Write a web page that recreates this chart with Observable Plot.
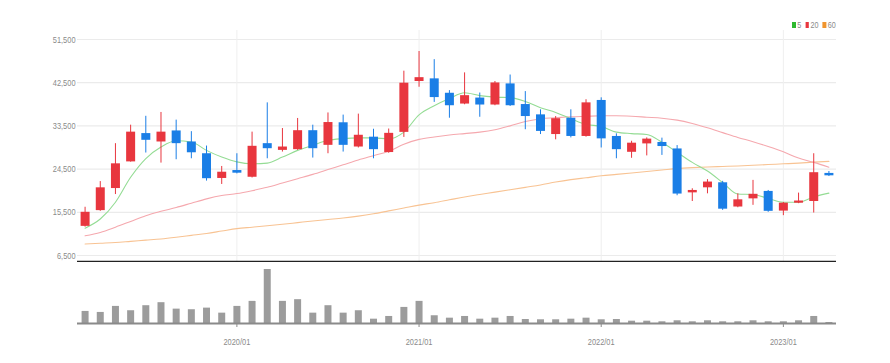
<!DOCTYPE html>
<html><head><meta charset="utf-8">
<script src="https://cdn.jsdelivr.net/npm/d3@7"></script>
<script src="https://cdn.jsdelivr.net/npm/@observablehq/plot@0.6"></script>
<style>
body{margin:0;background:#fff;}
#wrap{position:relative;width:890px;height:363px;overflow:hidden;font-family:"Liberation Sans",Arial,sans-serif;}
#top{position:absolute;left:0;top:0}
#bot{position:absolute;left:0;top:262px}
#legend{position:absolute;top:19px;left:792px;font-size:9px;line-height:12px;color:#8a8a8a;white-space:nowrap;transform:scaleX(0.8);transform-origin:0 0}
#legend span.sw{display:inline-block;width:4.5px;height:6px;margin-right:2px;vertical-align:middle;position:relative;top:-1px}
#legend span.it{margin-right:5px}
</style></head>
<body><div id="wrap"><div id="top"></div><div id="bot"></div><div id="legend"></div></div>
<script>
const months = ["2019/03","2019/04","2019/05","2019/06","2019/07","2019/08","2019/09","2019/10","2019/11","2019/12",
"2020/01","2020/02","2020/03","2020/04","2020/05","2020/06","2020/07","2020/08","2020/09","2020/10","2020/11","2020/12",
"2021/01","2021/02","2021/03","2021/04","2021/05","2021/06","2021/07","2021/08","2021/09","2021/10","2021/11","2021/12",
"2022/01","2022/02","2022/03","2022/04","2022/05","2022/06","2022/07","2022/08","2022/09","2022/10","2022/11","2022/12",
"2023/01","2023/02","2023/03","2023/04"];
const open  = [12570,15850,20450,26000,31900,30150,32450,30150,27700,22550,
24200,22800,29800,28400,28550,32500,29450,34150,29100,31150,27950,32150,
42750,43300,40300,38050,39300,37850,42250,37950,35800,31700,35100,31300,
38800,31300,28000,29750,30050,28700,19550,20600,21650,16600,18300,19850,
15750,17400,17750,23600];
const close = [15500,20600,25600,32200,30500,32200,29800,27900,22500,23850,
23650,29250,28750,29100,32500,28750,34200,29450,31550,28550,31950,42400,
43550,39400,37700,39800,37850,42450,37700,35450,32350,35000,31300,38300,
30800,28550,29900,30750,29200,19300,20050,21800,16150,18100,19250,15700,
17400,17850,23750,23100];
const high  = [16550,21900,29800,33650,35500,36300,34700,32300,29300,25050,
27700,32200,38300,32950,35050,33650,36200,35750,35950,32800,32850,44900,
49000,47300,40850,44550,40350,42750,44100,40650,36850,35450,36850,38950,
39350,31850,30300,31000,30950,29400,20400,22300,21950,19350,22150,20050,
17550,19500,27700,24000];
const low   = [12400,15700,19200,25950,27850,25750,26450,26650,22000,21300,
23500,22650,26650,28050,28400,26800,27700,28050,28900,26650,27800,31100,
41550,38400,35100,37900,35300,37700,37550,32700,31700,30600,31000,31150,
28900,26650,26750,27250,27350,18950,17750,19350,15900,16450,16950,15500,
14800,17300,15350,22950];
const ma5  = [12200,14100,17600,22800,26700,29100,30400,30150,28400,27000,
26000,25600,25750,27000,28400,29450,30500,30850,31000,31000,30800,32200,
35800,37700,39200,40400,39800,39500,39400,38600,37300,36300,35000,33800,
33400,32200,31900,31700,30100,28000,25900,24100,21700,19300,19200,18400,
17600,17600,18700,19500];
const ma20 = [10600,11300,12400,13600,14800,15700,16500,17400,18300,19000,
19400,20000,20700,21600,22500,23400,24400,25400,26400,27300,28200,29700,
30700,31200,31600,31900,32200,32700,33500,34400,35000,35200,35400,35500,
35600,35600,35500,35300,35100,34700,34000,33100,32100,31100,30200,29200,
28100,26800,25900,24900];
const ma60 = [8900,9050,9200,9450,9700,9950,10300,10700,11100,11600,
12100,12400,12700,13000,13350,13700,14000,14300,14700,15200,15800,16400,
17000,17500,18100,18700,19200,19700,20200,20700,21200,21800,22300,22700,
23100,23400,23700,24000,24300,24600,24800,24950,25050,25150,25300,25450,
25600,25750,25950,26100];
const volume = [120,110,170,127,177,207,143,137,153,103,
170,220,537,220,237,103,177,103,127,43,70,160,
220,77,53,70,43,53,70,40,37,37,43,53,
37,40,23,23,17,27,17,27,17,17,27,17,
17,27,70,10];
const yTicks = [6500,15500,24500,33500,42500,51500];
const xTickLabels = ["2020/01","2021/01","2022/01","2023/01"];
const yDomain = [5250, 53375];
const legendItems = [{name:"5",color:"#2eb82e"},{name:"20",color:"#e8363e"},{name:"60",color:"#f0952e"}];

const RED = "#e8363e", BLUE = "#1a7ee6";
const data = months.map((m, i) => ({i, m, open: open[i], close: close[i], high: high[i], low: low[i],
  ma5: ma5[i], ma20: ma20[i], ma60: ma60[i], vol: volume[i]}));
const ups = data.filter(d => d.close >= d.open);
const downs = data.filter(d => d.close < d.open);
const yearIdx = xTickLabels.map(l => months.indexOf(l));
const xDom = [-0.5, months.length - 0.5];
const font = '"Liberation Sans",Arial,sans-serif';

const topPlot = Plot.plot({
  width: 890, height: 262, marginLeft: 77, marginRight: 54, marginTop: 30, marginBottom: 1,
  style: {background: "transparent", color: "#8a8a8a", fontSize: "9.5px", fontFamily: font},
  x: {type: "linear", domain: xDom, axis: null},
  y: {domain: yDomain, ticks: yTicks, tickFormat: d3.format(","), tickSize: 0, tickPadding: 2, label: null},
  marks: [
    Plot.ruleY(yTicks, {stroke: "#ebebeb", strokeWidth: 1.2}),
    Plot.ruleX(yearIdx, {stroke: "#efefef", strokeWidth: 1}),
    Plot.line(data, {x: "i", y: "ma60", stroke: "#f8c393", strokeWidth: 1.1, curve: "monotone-x"}),
    Plot.line(data, {x: "i", y: "ma20", stroke: "#f5a8ae", strokeWidth: 1.1, curve: "monotone-x"}),
    Plot.line(data, {x: "i", y: "ma5", stroke: "#94dc94", strokeWidth: 1.1, curve: "monotone-x"}),
    Plot.ruleX(ups, {x: "i", y1: "low", y2: "high", stroke: RED, strokeWidth: 1}),
    Plot.ruleX(downs, {x: "i", y1: "low", y2: "high", stroke: BLUE, strokeWidth: 1}),
    Plot.ruleX(ups, {x: "i", y1: "open", y2: "close", stroke: RED, strokeWidth: 9}),
    Plot.ruleX(downs, {x: "i", y1: "open", y2: "close", stroke: BLUE, strokeWidth: 9}),
    Plot.ruleY([yDomain[0]], {stroke: "#222", strokeWidth: 1.5})
  ]
});
document.getElementById("top").appendChild(topPlot);

const botPlot = Plot.plot({
  width: 890, height: 101, marginLeft: 77, marginRight: 54, marginTop: 7, marginBottom: 40,
  style: {background: "transparent", color: "#8a8a8a", fontSize: "9.5px", fontFamily: font},
  x: {type: "linear", domain: xDom, ticks: yearIdx, tickFormat: i => months[i], tickSize: 4, tickPadding: 11, label: null},
  y: {domain: [0, d3.max(volume)], axis: null},
  marks: [
    Plot.ruleX(data, {x: "i", y1: 0, y2: "vol", stroke: "#9c9c9c", strokeWidth: 7}),
    Plot.ruleY([0], {stroke: "#8a8a8a", strokeWidth: 2})
  ]
});
document.getElementById("bot").appendChild(botPlot);

// condense axis labels (narrow look of the original)
[topPlot, botPlot].forEach(svg => {
  d3.select(svg).selectAll("text").each(function() {
    const w = this.getComputedTextLength();
    if (w > 0) { this.setAttribute("textLength", (w * 0.78).toFixed(1)); this.setAttribute("lengthAdjust", "spacingAndGlyphs"); }
  });
});

const lg = d3.select("#legend");
legendItems.forEach(it => {
  lg.append("span").attr("class", "sw").style("background", it.color);
  lg.append("span").attr("class", "it").text(it.name);
});
</script></body></html>
